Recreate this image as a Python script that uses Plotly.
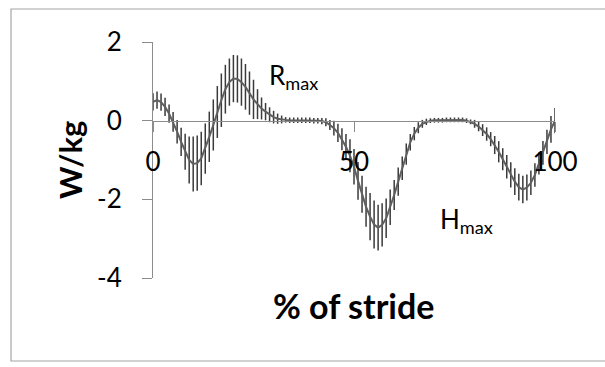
import plotly.graph_objects as go

stride_pct = list(range(0, 101))

mean_power = [
    0.48, 0.52, 0.47, 0.35, 0.18, -0.03, -0.28, -0.54, -0.79, -1.00,
    -1.10, -1.08, -0.96, -0.71, -0.41, -0.11, 0.22, 0.52, 0.80, 0.98,
    1.07, 1.06, 0.98, 0.86, 0.70, 0.54, 0.42, 0.31, 0.23, 0.15,
    0.09, 0.05, 0.03, 0.02, 0.01, 0.01, 0.01, 0.01, 0.01, 0.01,
    0.00, 0.00, -0.01, -0.04, -0.11, -0.19, -0.31, -0.47, -0.66, -0.89,
    -1.17, -1.53, -1.87, -2.19, -2.44, -2.64, -2.72, -2.65, -2.48, -2.20,
    -1.89, -1.55, -1.21, -0.85, -0.55, -0.33, -0.18, -0.08, -0.03, 0.00,
    0.01, 0.01, 0.01, 0.02, 0.02, 0.02, 0.02, 0.02, 0.00, -0.03,
    -0.08, -0.15, -0.24, -0.34, -0.47, -0.62, -0.79, -0.98, -1.17, -1.38,
    -1.55, -1.69, -1.75, -1.70, -1.58, -1.38, -1.09, -0.82, -0.54, -0.22,
    0.00,
]

sd_power = [
    0.22, 0.22, 0.22, 0.23, 0.23, 0.25, 0.30, 0.36, 0.46, 0.60,
    0.70, 0.70, 0.68, 0.64, 0.64, 0.65, 0.66, 0.68, 0.62, 0.60,
    0.60, 0.60, 0.60, 0.58, 0.55, 0.50, 0.38, 0.28, 0.22, 0.19,
    0.16, 0.13, 0.10, 0.07, 0.07, 0.07, 0.07, 0.07, 0.07, 0.07,
    0.07, 0.07, 0.08, 0.10, 0.13, 0.19, 0.23, 0.28, 0.32, 0.42,
    0.45, 0.48, 0.47, 0.51, 0.60, 0.61, 0.58, 0.55, 0.50, 0.45,
    0.38, 0.36, 0.30, 0.27, 0.21, 0.17, 0.14, 0.10, 0.08, 0.06,
    0.06, 0.06, 0.06, 0.06, 0.06, 0.06, 0.06, 0.06, 0.06, 0.06,
    0.10, 0.12, 0.15, 0.17, 0.18, 0.23, 0.27, 0.28, 0.30, 0.32,
    0.34, 0.34, 0.35, 0.33, 0.31, 0.30, 0.28, 0.30, 0.31, 0.34,
    0.32,
]

x_ticks = [0, 50, 100]
y_ticks = [-4, -2, 0, 2]

W, H = 605, 367
ML, MR, MT, MB = 153, 50, 42, 89
PW, PH = W - ML - MR, H - MT - MB

def px_x(p):
    return (p - ML) / PW

def px_y(p):
    return (H - MB - p) / PH

FONT = "Lato"
AX = "#8c8c8c"

fig = go.Figure()
fig.add_trace(go.Scatter(
    x=stride_pct, y=mean_power, mode="lines",
    line=dict(color="#5f5f5f", width=2),
    error_y=dict(type="data", array=sd_power, visible=True,
                 color="#3a3a3a", thickness=1.5, width=0),
    showlegend=False, hoverinfo="skip",
))

fig.update_layout(
    width=W, height=H,
    margin=dict(l=ML, r=MR, t=MT, b=MB),
    paper_bgcolor="white", plot_bgcolor="white",
    font=dict(family=FONT, color="black", size=26),
    xaxis=dict(range=[0, 100], tickvals=x_ticks, ticktext=[str(v) for v in x_ticks],
               showgrid=False, zeroline=False, showline=True, linecolor=AX, linewidth=1,
               ticks="outside", ticklen=10, tickcolor=AX, tickwidth=1,
               anchor="free", position=4 / 6, ticklabelstandoff=8,
               tickfont=dict(size=26, family=FONT)),
    yaxis=dict(range=[-4, 2], tickvals=y_ticks, ticktext=[str(v) for v in y_ticks],
               showgrid=False, zeroline=False, showline=True, linecolor=AX, linewidth=1,
               ticks="outside", ticklen=10, tickcolor=AX, tickwidth=1,
               ticklabelstandoff=15, tickfont=dict(size=26, family=FONT)),
    shapes=[dict(type="rect", xref="paper", yref="paper",
                 x0=px_x(11), x1=px_x(630), y0=px_y(361), y1=px_y(9),
                 line=dict(color="#a6a6a6", width=1.2), fillcolor="rgba(0,0,0,0)", layer="below")],
    annotations=[
        dict(text="W/kg", xref="paper", yref="paper", x=px_x(70), y=px_y(160),
             textangle=-90, showarrow=False, xanchor="center", yanchor="middle",
             font=dict(size=31, family=FONT, color="black", weight="bold")),
        dict(text="% of stride", xref="paper", yref="paper", x=px_x(353), y=px_y(305),
             showarrow=False, xanchor="center", yanchor="middle",
             font=dict(size=34, family=FONT, color="black", weight="bold")),
        dict(text="R<sub>max</sub>", xref="x", yref="y", x=28.3, y=1.12,
             showarrow=False, xanchor="left", yanchor="middle",
             font=dict(size=26, family=FONT, color="black")),
        dict(text="H<sub>max</sub>", xref="x", yref="y", x=70.8, y=-2.55,
             showarrow=False, xanchor="left", yanchor="middle",
             font=dict(size=26, family=FONT, color="black")),
    ],
)

fig.write_html("out.html")
